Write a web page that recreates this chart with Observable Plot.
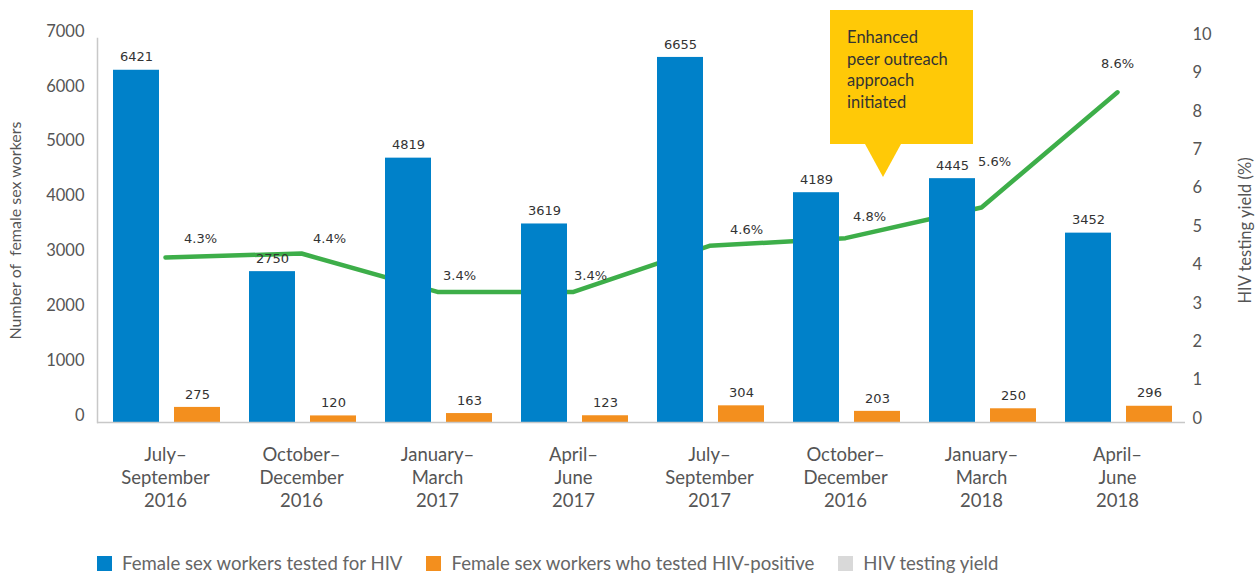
<!DOCTYPE html>
<html><head><meta charset="utf-8">
<script src="https://cdn.jsdelivr.net/npm/d3@7"></script>
<script src="https://cdn.jsdelivr.net/npm/@observablehq/plot@0.6"></script>
<style>
body{margin:0;background:#fff;font-family:Lato,"Noto Sans",sans-serif;}
#wrap{position:relative;width:1258px;height:577px;overflow:hidden;}
#legend{position:absolute;left:97px;top:551px;height:24px;display:flex;align-items:center;font-size:18.6px;color:#666;white-space:nowrap;}
#legend .item{display:flex;align-items:center;margin-right:24px;}
#legend .sw{width:15px;height:15px;margin-right:10px;}
#callout{position:absolute;background:#FFC907;color:#333;font-size:16.5px;line-height:21.5px;box-sizing:border-box;padding:17px 0 0 17px;white-space:pre;}
#pointer{position:absolute;width:0;height:0;border-left:18px solid transparent;border-right:18px solid transparent;border-top:33px solid #FFC907;}
</style></head><body><div id="wrap"></div>
<script>
// ---- data ----
const periods = [
  "July–\nSeptember\n2016",
  "October–\nDecember\n2016",
  "January–\nMarch\n2017",
  "April–\nJune\n2017",
  "July–\nSeptember\n2017",
  "October–\nDecember\n2016",
  "January–\nMarch\n2018",
  "April–\nJune\n2018"
];
const tested = [6421, 2750, 4819, 3619, 6655, 4189, 4445, 3452];
const positive = [275, 120, 163, 123, 304, 203, 250, 296];
const yieldPct = [4.3, 4.4, 3.4, 3.4, 4.6, 4.8, 5.6, 8.6];
const leftTicks = [0, 1000, 2000, 3000, 4000, 5000, 6000, 7000];
const rightTicks = [0, 1, 2, 3, 4, 5, 6, 7, 8, 9, 10];
const seriesNames = ["Female sex workers tested for HIV", "Female sex workers who tested HIV-positive", "HIV testing yield"];
const seriesColors = ["#0081C9", "#F38F1E", "#D9D9D9"];
const lineColor = "#3DAE49";
const leftTitle = "Number of  female sex workers";
const rightTitle = "HIV testing yield (%)";
const calloutText = "Enhanced\npeer outreach\napproach\ninitiated";
const calloutIndex = 5;
// placement nudges (pixels) for the yield labels, one per period
const yieldLabelNudge = [[35, -19], [28, -15], [22, -16], [17, -16], [37, -16], [24, -21], [13, -46], [0, -28]];

// ---- chart ----
const factor = 700; // 10 % on the right axis ↔ 7000 on the left axis
const idx = periods.map((_, i) => i);
const rows = idx.map(i => ({i, tested: tested[i], positive: positive[i], yld: yieldPct[i]}));

const valueFont = {fontFamily: "DejaVu Sans, sans-serif", fontSize: 13, fill: "#333"};

const chart = Plot.plot({
  width: 1258, height: 530,
  marginLeft: 97, marginRight: 73, marginTop: 38, marginBottom: 108,
  x: {type: "band", domain: idx, paddingInner: 0, paddingOuter: 0},
  y: {domain: [0, 7000]},
  style: {fontFamily: "Lato, sans-serif", color: "#555", background: "#fff", overflow: "visible"},
  marks: [
    Plot.line(rows, {x: "i", y: d => d.yld * factor, stroke: lineColor, strokeWidth: 4.5}),
    Plot.barY(rows, {x: "i", y: "tested", fill: seriesColors[0], insetLeft: 16, insetRight: 74}),
    Plot.barY(rows, {x: "i", y: "positive", fill: seriesColors[1], insetLeft: 77, insetRight: 13}),
    Plot.ruleY([0], {stroke: "#c8c8c8", strokeWidth: 1.5}),
    Plot.frame({anchor: "left", stroke: "#c8c8c8", strokeWidth: 1.5}),
    Plot.text(rows, {x: "i", y: "tested", text: d => String(d.tested), dx: -29, dy: -13, ...valueFont}),
    Plot.text(rows, {x: "i", y: "positive", text: d => String(d.positive), dx: 32, dy: -13, ...valueFont}),
    ...yieldLabelNudge.map(([dx, dy], k) =>
      Plot.text(rows, {filter: d => d.i === k, x: "i", y: d => d.yld * factor, text: d => d.yld.toFixed(1) + "%", dx, dy, ...valueFont})),
    Plot.axisY(leftTicks, {anchor: "left", tickSize: 0, tickPadding: 13, dy: -7, fontSize: 16.5, tickFormat: d => String(d), label: null}),
    Plot.axisY(rightTicks.map(v => v * factor), {anchor: "right", tickSize: 0, tickPadding: 7, dy: -4, fontSize: 16.5, tickFormat: d => String(d / factor), label: null}),
    Plot.axisX({tickSize: 0, tickPadding: 22, fontSize: 18.5, lineHeight: 1.24, tickFormat: i => periods[i], label: null, fill: "#555"}),
    Plot.text([leftTitle], {frameAnchor: "left", textAnchor: "middle", rotate: -90, dx: -82, fontSize: 16, fill: "#555"}),
    Plot.text([rightTitle], {frameAnchor: "right", textAnchor: "middle", rotate: -90, dx: 60, fontSize: 16.5, fill: "#555"})
  ]
});

const wrap = document.getElementById("wrap");
wrap.appendChild(chart);

// callout anchored on the x scale
const xs = chart.scale("x");
const tipX = xs.apply(calloutIndex) + xs.bandwidth * 0.78;
const box = document.createElement("div");
box.id = "callout";
box.textContent = calloutText;
box.style.left = (tipX - 53) + "px";
box.style.top = "10px";
box.style.width = "143px";
box.style.height = "134px";
wrap.appendChild(box);
const ptr = document.createElement("div");
ptr.id = "pointer";
ptr.style.left = (tipX - 18) + "px";
ptr.style.top = "144px";
wrap.appendChild(ptr);

// legend
const legend = document.createElement("div");
legend.id = "legend";
seriesNames.forEach((name, k) => {
  const item = document.createElement("div");
  item.className = "item";
  const sw = document.createElement("div");
  sw.className = "sw";
  sw.style.background = seriesColors[k];
  const label = document.createElement("span");
  label.textContent = name;
  item.appendChild(sw);
  item.appendChild(label);
  legend.appendChild(item);
});
wrap.appendChild(legend);
</script>
</body></html>
